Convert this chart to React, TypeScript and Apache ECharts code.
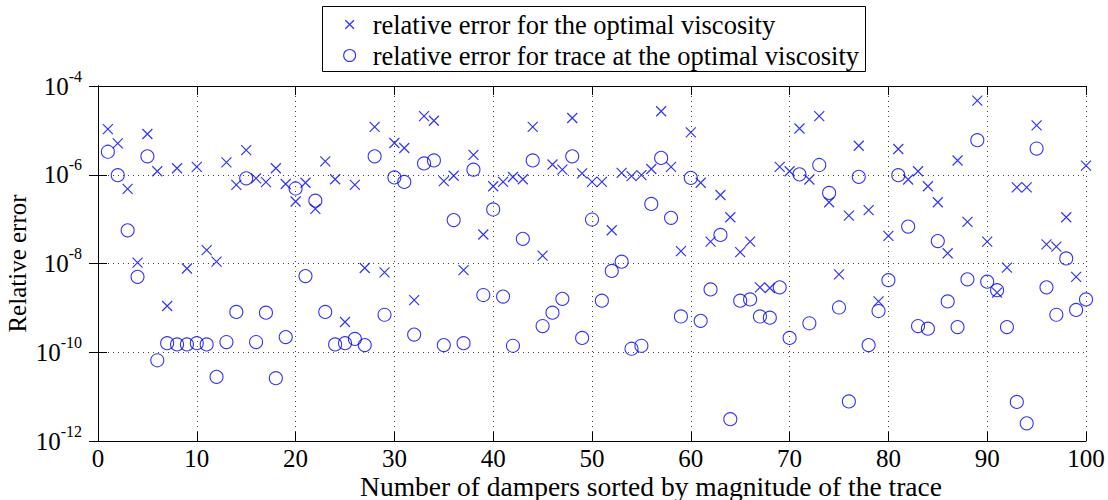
import React, { useEffect, useRef } from "react";
import * as echarts from "echarts";

const SERIF = "Liberation Serif, Times New Roman, Times, serif";
const BLUE = "#0000ff";

const seriesNames = [
  "relative error for the optimal viscosity",
  "relative error for trace at the optimal viscosity",
];

const xTitle = "Number of dampers sorted by magnitude of the trace";
const yTitle = "Relative error";

// damper index 1..100
const damperIndex = Array.from({ length: 100 }, (_, i) => i + 1);

// relative error for the optimal viscosity (x markers)
const viscosityError = [
  1.07e-5, 5.1e-6, 4.8e-7, 1.05e-8, 8.3e-6, 1.2e-6, 1.1e-9, 1.4e-6, 7.7e-9, 1.5e-6,
  2.0e-8, 1.1e-8, 1.9e-6, 5.9e-7, 3.6e-6, 8.3e-7, 6.8e-7, 1.4e-6, 6.2e-7, 2.5e-7,
  6.6e-7, 1.7e-7, 2.0e-6, 7.9e-7, 4.8e-10, 5.9e-7, 7.9e-9, 1.2e-5, 6.3e-9, 5.2e-6,
  4.0e-6, 1.5e-9, 2.1e-5, 1.65e-5, 7.2e-7, 9.5e-7, 7.1e-9, 2.8e-6, 4.5e-8, 5.5e-7,
  6.9e-7, 8.9e-7, 7.9e-7, 1.2e-5, 1.5e-8, 1.7e-6, 1.3e-6, 1.9e-5, 1.07e-6, 6.9e-7,
  6.9e-7, 5.6e-8, 1.1e-6, 9.3e-7, 9.8e-7, 1.35e-6, 2.7e-5, 1.5e-6, 1.9e-8, 9.0e-6,
  6.6e-7, 3.1e-8, 3.5e-7, 1.1e-7, 1.8e-8, 3.1e-8, 2.9e-9, 2.8e-9, 1.5e-6, 1.2e-6,
  1.1e-5, 7.8e-7, 2.1e-5, 2.4e-7, 5.7e-9, 1.2e-7, 4.5e-6, 1.6e-7, 1.4e-9, 4.2e-8,
  3.8e-6, 7.8e-7, 1.2e-6, 5.5e-7, 2.4e-7, 1.7e-8, 2.1e-6, 8.7e-8, 4.7e-5, 3.1e-8,
  2.2e-9, 8.1e-9, 5.2e-7, 5.2e-7, 1.3e-5, 2.7e-8, 2.4e-8, 1.1e-7, 5.0e-9, 1.6e-6,
];

// relative error for trace at the optimal viscosity (o markers)
const traceError = [
  3.3e-6, 9.8e-7, 5.6e-8, 5.0e-9, 2.6e-6, 6.6e-11, 1.6e-10, 1.5e-10, 1.5e-10, 1.6e-10,
  1.5e-10, 2.8e-11, 1.7e-10, 8.1e-10, 8.3e-7, 1.7e-10, 7.8e-10, 2.6e-11, 2.2e-10, 4.9e-7,
  5.2e-9, 2.6e-7, 8.1e-10, 1.5e-10, 1.6e-10, 2.0e-10, 1.45e-10, 2.6e-6, 7.0e-10, 8.7e-7,
  6.9e-7, 2.5e-10, 1.8e-6, 2.1e-6, 1.45e-10, 9.5e-8, 1.6e-10, 1.3e-6, 1.95e-9, 1.65e-7,
  1.8e-9, 1.4e-10, 3.6e-8, 2.1e-6, 3.9e-10, 7.8e-10, 1.6e-9, 2.6e-6, 2.1e-10, 9.8e-8,
  1.45e-9, 6.8e-9, 1.1e-8, 1.2e-10, 1.4e-10, 2.2e-7, 2.4e-6, 1.07e-7, 6.4e-10, 8.5e-7,
  5.1e-10, 2.6e-9, 4.4e-8, 3.1e-12, 1.45e-9, 1.55e-9, 6.4e-10, 6.0e-10, 2.9e-9, 2.1e-10,
  1.02e-6, 4.5e-10, 1.66e-6, 3.9e-7, 1.02e-9, 7.8e-12, 9.0e-7, 1.45e-10, 8.5e-10, 4.2e-9,
  9.8e-7, 6.8e-8, 3.9e-10, 3.4e-10, 3.2e-8, 1.4e-9, 3.7e-10, 4.4e-9, 6.0e-6, 3.9e-9,
  2.5e-9, 3.7e-10, 7.6e-12, 2.5e-12, 3.9e-6, 2.9e-9, 7.0e-10, 1.3e-8, 9.0e-10, 1.55e-9,
];

const xTicks = { min: 0, max: 100, interval: 10 };
const yTicks = { min: 1e-12, max: 1e-4, interval: 2 };

const X_PATH = "path://M0,0L10,10M10,0L0,10";

export default function App() {
  const ref = useRef<HTMLDivElement>(null);

  useEffect(() => {
    if (!ref.current) return;
    const chart = echarts.init(ref.current, null, { renderer: "svg" });

    const frameLine = { show: true, lineStyle: { color: "#000", width: 1 } };
    const tick = { show: true, inside: true, length: 9, lineStyle: { color: "#000", width: 1 } };
    const grid = { show: true, lineStyle: { color: "#444", width: 1, type: [1, 4] } };

    const option: any = {
      animation: false,
      backgroundColor: "#fff",
      textStyle: { fontFamily: SERIF },
      grid: { left: 98, right: 22, top: 86, bottom: 59, outerBoundsMode: "none" },
      graphic: [
        {
          type: "rect",
          left: 322,
          top: 6,
          shape: { width: 543, height: 65 },
          style: { fill: "#fff", stroke: "#000", lineWidth: 1 },
          z: 0,
        },
      ],
      legend: {
        orient: "vertical",
        left: 343,
        top: 11,
        padding: 0,
        itemGap: 4,
        itemWidth: 12,
        itemHeight: 12,
        z: 10,
        textStyle: { fontFamily: SERIF, fontSize: 26.5, color: "#000", padding: [0, 0, 0, 12] },
        data: [
          {
            name: seriesNames[0],
            icon: "path://M-2,-2M12,12M0,0L10,10M10,0L0,10",
            itemStyle: { color: "transparent", borderColor: BLUE, borderWidth: 1.3 },
          },
          {
            name: seriesNames[1],
            icon: "circle",
            itemStyle: { color: "transparent", borderColor: BLUE, borderWidth: 1.1 },
          },
        ],
      },
      xAxis: [
        {
          type: "value",
          ...xTicks,
          position: "bottom",
          axisLine: frameLine,
          axisTick: tick,
          axisLabel: { fontFamily: SERIF, fontSize: 25, color: "#000", margin: 5 },
          splitLine: grid,
          name: xTitle,
          nameLocation: "middle",
          nameGap: 31,
          nameMoveOverlap: false,
          nameTextStyle: { fontFamily: SERIF, fontSize: 27.5, color: "#000", padding: [0, 0, 0, 118] },
        },
        {
          type: "value",
          ...xTicks,
          position: "top",
          axisLine: frameLine,
          axisTick: tick,
          axisLabel: { show: false },
          splitLine: { show: false },
        },
      ],
      yAxis: [
        {
          type: "log",
          logBase: 10,
          ...yTicks,
          position: "left",
          axisLine: frameLine,
          axisTick: tick,
          minorTick: { show: false },
          axisLabel: {
            margin: 16,
            fontFamily: SERIF,
            formatter: (v: number) => `{b|10}{s|${Math.round(Math.log10(v))}}`,
            rich: {
              b: { fontFamily: SERIF, fontSize: 25, color: "#000", lineHeight: 36, verticalAlign: "middle" },
              s: { fontFamily: SERIF, fontSize: 16, color: "#000", lineHeight: 36, verticalAlign: "top" },
            },
          },
          splitLine: grid,
          name: yTitle,
          nameLocation: "middle",
          nameGap: 68,
          nameMoveOverlap: false,
          nameTextStyle: { fontFamily: SERIF, fontSize: 25, color: "#000" },
        },
        {
          type: "log",
          logBase: 10,
          ...yTicks,
          position: "right",
          axisLine: frameLine,
          axisTick: tick,
          axisLabel: { show: false },
          splitLine: { show: false },
        },
      ],
      series: [
        {
          type: "scatter",
          name: seriesNames[0],
          symbol: X_PATH,
          symbolSize: 10,
          itemStyle: { color: "transparent", borderColor: BLUE, borderWidth: 1.2 },
          data: damperIndex.map((x, i) => [x, viscosityError[i]]),
        },
        {
          type: "scatter",
          name: seriesNames[1],
          symbol: "circle",
          symbolSize: 13,
          itemStyle: { color: "transparent", borderColor: BLUE, borderWidth: 1.1 },
          data: damperIndex.map((x, i) => [x, traceError[i]]),
        },
      ],
    };

    chart.setOption(option);
    return () => chart.dispose();
  }, []);

  return (
    <div
      ref={ref}
      style={{ position: "fixed", left: 0, top: 0, width: 1108, height: 500, background: "#fff" }}
    />
  );
}
